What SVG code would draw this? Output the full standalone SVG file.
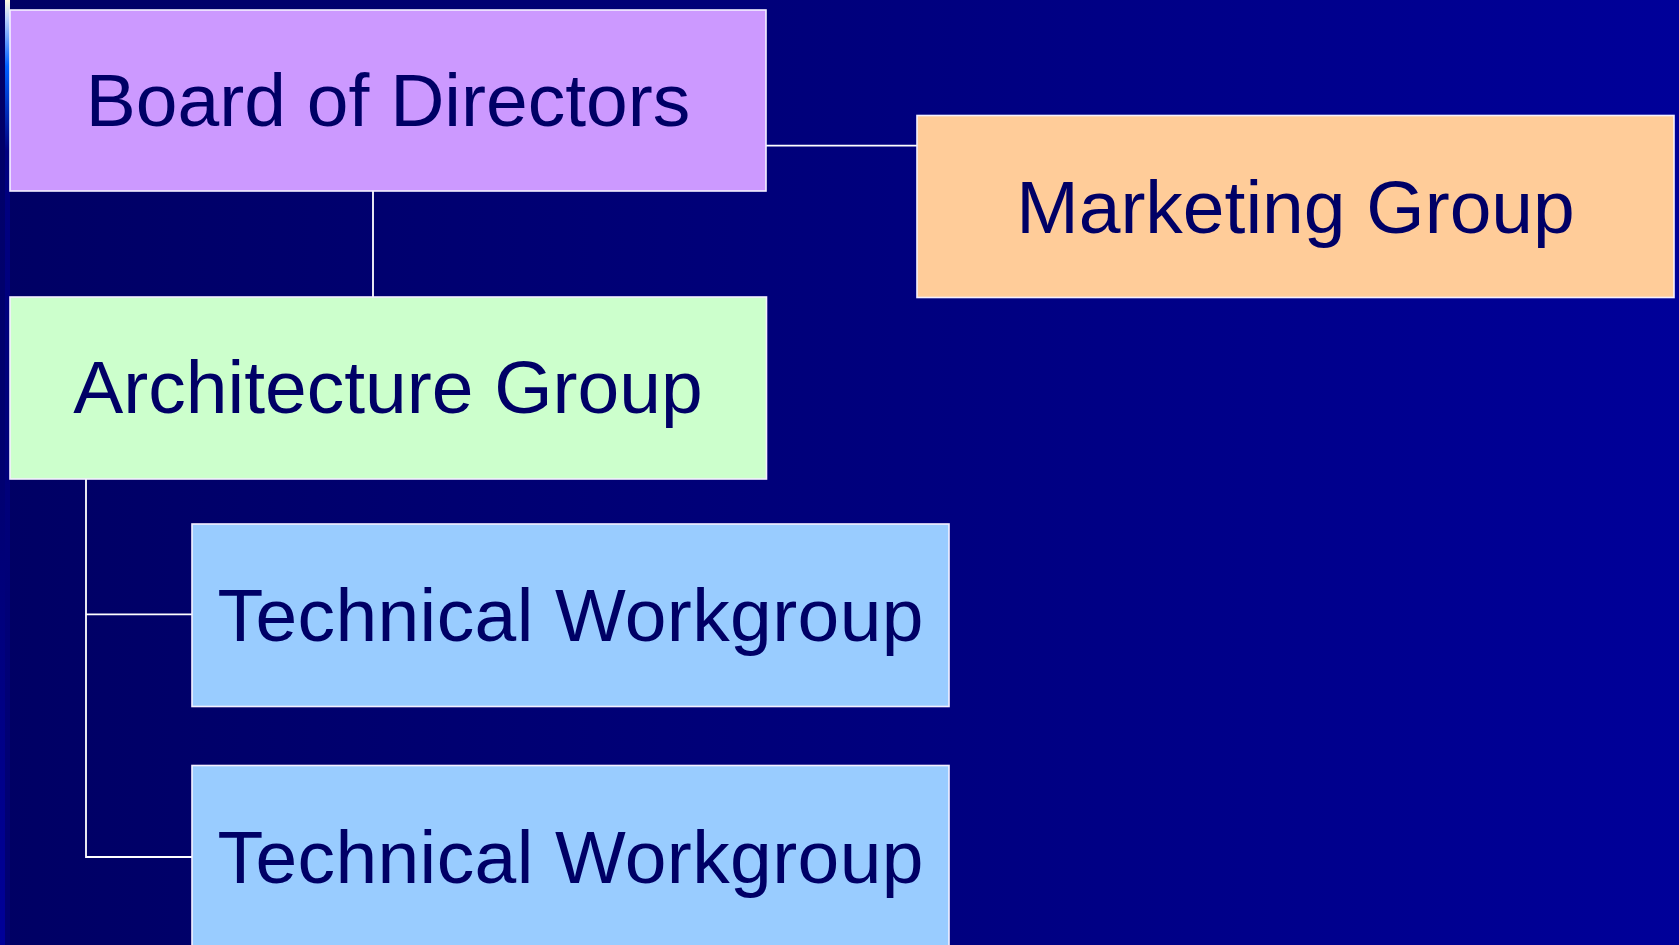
<svg xmlns="http://www.w3.org/2000/svg" width="1679" height="945" viewBox="0 0 1679 945">
  <defs>
    <linearGradient id="bg" x1="0" y1="0" x2="1" y2="0">
      <stop offset="0" stop-color="#000064"/>
      <stop offset="0.5" stop-color="#00007c"/>
      <stop offset="1" stop-color="#000099"/>
    </linearGradient>
    <linearGradient id="stripA" x1="0" y1="0" x2="0" y2="945" gradientUnits="userSpaceOnUse">
      <stop offset="0" stop-color="#fffbe0"/>
      <stop offset="0.02" stop-color="#b8d0ff"/>
      <stop offset="0.07" stop-color="#0060ff"/>
      <stop offset="0.16" stop-color="#000080"/>
      <stop offset="1" stop-color="#000070"/>
    </linearGradient>
    <linearGradient id="stripB" x1="0" y1="0" x2="0" y2="945" gradientUnits="userSpaceOnUse">
      <stop offset="0" stop-color="#000066"/>
      <stop offset="0.5" stop-color="#000070"/>
      <stop offset="1" stop-color="#000099"/>
    </linearGradient>
  </defs>
  <style>
    .box { stroke: #f4f0ff; stroke-width: 1.6; }
    .lbl { font-family: "Liberation Sans", Arial, sans-serif; font-size: 75px; fill: #000066; text-anchor: middle; }
    .conn { stroke: #ffffff; stroke-width: 1.8; fill: none; }
  </style>
  <rect x="0" y="0" width="1679" height="945" fill="url(#bg)"/>
  <rect x="0" y="0" width="5" height="945" fill="url(#stripB)"/>
  <rect x="5" y="0" width="5" height="945" fill="url(#stripA)"/>

  <g id="connectors">
    <line class="conn" x1="766" y1="145.7" x2="917" y2="145.7"/>
    <line class="conn" x1="373" y1="191" x2="373" y2="297"/>
    <polyline class="conn" points="86,479 86,857 192,857"/>
    <line class="conn" x1="86" y1="614.3" x2="192" y2="614.3"/>
  </g>

  <g id="board">
    <rect class="box" x="10" y="10" width="756" height="181" fill="#cc99ff"/>
    <text class="lbl" x="388" y="126">Board of Directors</text>
  </g>
  <g id="marketing">
    <rect class="box" x="917" y="115.5" width="757" height="182" fill="#ffcc99"/>
    <text class="lbl" x="1295.5" y="232.7">Marketing Group</text>
  </g>
  <g id="architecture">
    <rect class="box" x="10" y="297" width="756.5" height="182" fill="#ccffcc"/>
    <text class="lbl" x="388" y="413.3">Architecture Group</text>
  </g>
  <g id="tech1">
    <rect class="box" x="192" y="524" width="757" height="182.5" fill="#99ccff"/>
    <text class="lbl" x="570.5" y="641" textLength="706" lengthAdjust="spacing">Technical Workgroup</text>
  </g>
  <g id="tech2">
    <rect class="box" x="192" y="765.5" width="757" height="182.5" fill="#99ccff"/>
    <text class="lbl" x="570.5" y="882.6" textLength="706" lengthAdjust="spacing">Technical Workgroup</text>
  </g>
</svg>
